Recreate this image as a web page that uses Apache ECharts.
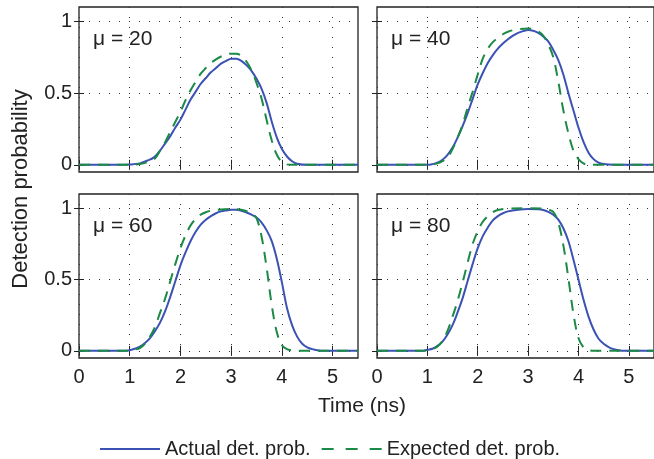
<!DOCTYPE html>
<html>
<head>
<meta charset="utf-8">
<script src="https://cdn.jsdelivr.net/npm/echarts@6/dist/echarts.min.js"></script>
<style>
html,body{margin:0;padding:0;background:#fff;}
#chart{width:654px;height:459px;}
</style>
</head>
<body>
<div id="chart"></div>
<script>
// ---- data (time in ns, detection probability) ----
const muLabels = ['μ = 20', 'μ = 40', 'μ = 60', 'μ = 80'];
const xTicks = [0, 1, 2, 3, 4, 5];
const yTicks = [0, 0.5, 1];
const seriesNames = ['Actual det. prob.', 'Expected det. prob.'];

const actual20 = [[0,0],[0.8,0],[1.0,0.002],[1.2,0.01],[1.35,0.03],[1.47,0.05],[1.6,0.1],[1.7,0.15],[1.8,0.2],[1.9,0.26],[2.0,0.315],[2.1,0.385],[2.2,0.455],[2.3,0.51],[2.4,0.565],[2.5,0.605],[2.6,0.645],[2.7,0.675],[2.8,0.705],[2.9,0.725],[3.0,0.74],[3.1,0.74],[3.2,0.725],[3.3,0.695],[3.4,0.655],[3.5,0.6],[3.6,0.53],[3.7,0.43],[3.8,0.3],[3.9,0.19],[4.0,0.11],[4.1,0.058],[4.2,0.025],[4.3,0.008],[4.5,0],[5.5,0]];
const expected20 = [[0,0],[1.0,0],[1.2,0.005],[1.4,0.025],[1.5,0.045],[1.6,0.1],[1.7,0.16],[1.8,0.23],[1.9,0.3],[2.0,0.37],[2.1,0.45],[2.2,0.52],[2.3,0.58],[2.4,0.635],[2.5,0.675],[2.6,0.71],[2.7,0.735],[2.8,0.755],[2.9,0.768],[3.0,0.775],[3.1,0.775],[3.2,0.76],[3.3,0.72],[3.4,0.66],[3.5,0.57],[3.6,0.46],[3.7,0.31],[3.8,0.17],[3.9,0.07],[4.0,0.02],[4.1,0.003],[4.2,0],[5.5,0]];

const actual40 = [[0,0],[1.0,0],[1.1,0.005],[1.2,0.015],[1.3,0.035],[1.4,0.07],[1.5,0.12],[1.6,0.19],[1.7,0.27],[1.8,0.36],[1.9,0.46],[2.0,0.56],[2.1,0.64],[2.2,0.71],[2.3,0.765],[2.4,0.81],[2.5,0.845],[2.6,0.875],[2.7,0.9],[2.8,0.92],[2.9,0.932],[3.0,0.94],[3.1,0.935],[3.2,0.92],[3.3,0.895],[3.4,0.86],[3.5,0.8],[3.6,0.73],[3.7,0.63],[3.8,0.5],[3.9,0.38],[4.0,0.26],[4.1,0.16],[4.2,0.085],[4.3,0.04],[4.4,0.015],[4.5,0.005],[4.7,0],[5.5,0]];
const expected40 = [[0,0],[1.0,0],[1.2,0.01],[1.3,0.025],[1.4,0.05],[1.5,0.11],[1.6,0.19],[1.7,0.28],[1.8,0.4],[1.9,0.51],[2.0,0.63],[2.1,0.74],[2.2,0.81],[2.3,0.855],[2.4,0.885],[2.5,0.91],[2.6,0.928],[2.8,0.945],[3.0,0.95],[3.1,0.945],[3.2,0.93],[3.3,0.9],[3.4,0.84],[3.5,0.75],[3.6,0.58],[3.7,0.38],[3.8,0.22],[3.9,0.1],[4.0,0.04],[4.1,0.01],[4.2,0],[5.5,0]];

const actual60 = [[0,0],[0.9,0],[1.0,0.005],[1.1,0.015],[1.2,0.03],[1.3,0.055],[1.4,0.09],[1.5,0.14],[1.6,0.2],[1.7,0.28],[1.8,0.38],[1.9,0.49],[2.0,0.6],[2.1,0.69],[2.2,0.77],[2.3,0.835],[2.4,0.885],[2.5,0.92],[2.6,0.945],[2.7,0.965],[2.8,0.978],[2.9,0.985],[3.0,0.99],[3.1,0.99],[3.2,0.983],[3.3,0.97],[3.4,0.955],[3.5,0.935],[3.6,0.9],[3.7,0.845],[3.8,0.77],[3.9,0.645],[4.0,0.48],[4.1,0.3],[4.2,0.18],[4.3,0.1],[4.4,0.05],[4.5,0.025],[4.6,0.012],[4.7,0.004],[4.8,0],[5.5,0]];
const expected60 = [[0,0],[0.9,0],[1.0,0.003],[1.1,0.01],[1.2,0.02],[1.3,0.05],[1.4,0.1],[1.5,0.17],[1.6,0.27],[1.7,0.37],[1.8,0.49],[1.9,0.61],[2.0,0.72],[2.1,0.81],[2.2,0.88],[2.3,0.925],[2.4,0.955],[2.5,0.972],[2.6,0.983],[2.8,0.992],[3.0,0.995],[3.2,0.99],[3.3,0.98],[3.4,0.965],[3.5,0.93],[3.6,0.8],[3.7,0.58],[3.8,0.32],[3.9,0.13],[4.0,0.04],[4.1,0.012],[4.2,0.003],[4.3,0],[5.5,0]];

const actual80 = [[0,0],[0.9,0],[1.0,0.008],[1.1,0.015],[1.2,0.035],[1.3,0.065],[1.4,0.115],[1.5,0.18],[1.6,0.27],[1.7,0.37],[1.8,0.49],[1.9,0.61],[2.0,0.72],[2.1,0.805],[2.2,0.865],[2.3,0.915],[2.4,0.945],[2.5,0.965],[2.6,0.978],[2.8,0.99],[3.0,0.995],[3.2,0.993],[3.3,0.988],[3.4,0.975],[3.5,0.955],[3.6,0.92],[3.7,0.86],[3.8,0.77],[3.9,0.64],[4.0,0.5],[4.1,0.36],[4.2,0.24],[4.3,0.15],[4.4,0.085],[4.5,0.05],[4.6,0.027],[4.7,0.012],[4.8,0.004],[4.9,0],[5.5,0]];
const expected80 = [[0,0],[0.9,0],[1.0,0.005],[1.1,0.012],[1.2,0.03],[1.3,0.07],[1.4,0.14],[1.5,0.24],[1.6,0.35],[1.7,0.48],[1.8,0.62],[1.9,0.75],[2.0,0.84],[2.1,0.905],[2.2,0.945],[2.3,0.972],[2.4,0.988],[2.6,0.997],[3.0,1.0],[3.3,0.997],[3.4,0.99],[3.5,0.975],[3.6,0.9],[3.7,0.74],[3.8,0.51],[3.9,0.26],[4.0,0.09],[4.1,0.025],[4.2,0.006],[4.3,0],[5.5,0]];

const actualSets = [actual20, actual40, actual60, actual80];
const expectedSets = [expected20, expected40, expected60, expected80];

// ---- styling ----
const FONT = "'Liberation Sans', Arial, Helvetica, sans-serif";
const BLUE = '#3b52b4';
const GREEN = '#1b8a45';
const grids = [
  {left: 79, top: 7, width: 279, height: 165},
  {left: 377, top: 7, width: 279, height: 165},
  {left: 79, top: 194, width: 279, height: 164},
  {left: 377, top: 194, width: 279, height: 164}
];

const tickStyle = {show: true, inside: true, length: 5, lineStyle: {color: '#222', width: 1}};
const gridLine = {show: true, lineStyle: {color: '#333', width: 1, type: [1, 9]}};

const xAxes = [], yAxes = [], series = [], graphics = [];
grids.forEach((g, i) => {
  const bottomRow = i >= 2, leftCol = (i % 2 === 0);
  xAxes.push({
    type: 'value', gridIndex: i, min: 0, max: 5.5, position: 'bottom',
    axisLine: {show: false},
    axisTick: Object.assign({customValues: xTicks}, tickStyle),
    splitLine: gridLine,
    axisLabel: {show: bottomRow, customValues: xTicks, fontSize: 20, fontFamily: FONT, color: '#222', margin: 9}
  });
  yAxes.push({
    type: 'value', gridIndex: i, min: -0.05, max: 1.1, position: 'left',
    axisLine: {show: false},
    axisTick: Object.assign({customValues: yTicks}, tickStyle),
    splitLine: gridLine,
    axisLabel: {show: leftCol, customValues: yTicks, fontSize: 20, fontFamily: FONT, color: '#222', margin: 7}
  });
});
// mirrored ticks on top / right (MATLAB box style)
grids.forEach((g, i) => {
  xAxes.push({
    type: 'value', gridIndex: i, min: 0, max: 5.5, position: 'top',
    axisLine: {show: false}, axisTick: Object.assign({customValues: xTicks}, tickStyle),
    splitLine: {show: false}, axisLabel: {show: false}
  });
  yAxes.push({
    type: 'value', gridIndex: i, min: -0.05, max: 1.1, position: 'right',
    axisLine: {show: false}, axisTick: Object.assign({customValues: yTicks}, tickStyle),
    splitLine: {show: false}, axisLabel: {show: false}
  });
});

grids.forEach((g, i) => {
  series.push({
    name: seriesNames[0], type: 'line', xAxisIndex: i, yAxisIndex: i,
    data: actualSets[i], showSymbol: false, symbol: 'none', smooth: 0.35,
    lineStyle: {color: BLUE, width: 2}, itemStyle: {color: BLUE}, z: 3, silent: true
  });
  series.push({
    name: seriesNames[1], type: 'line', xAxisIndex: i, yAxisIndex: i,
    data: expectedSets[i], showSymbol: false, symbol: 'none', smooth: 0.35,
    lineStyle: {color: GREEN, width: 2, type: [11, 8]}, itemStyle: {color: GREEN}, z: 4, silent: true
  });
  graphics.push({
    type: 'text', left: g.left + 14, top: g.top + 22,
    style: {text: muLabels[i], fontSize: 21, fontFamily: FONT, fill: '#222'}
  });
});

graphics.push({
  type: 'text', x: 362, y: 406,
  style: {text: 'Time (ns)', fontSize: 21, fontFamily: FONT, fill: '#222', textAlign: 'center', textVerticalAlign: 'middle'}
});
graphics.push({
  type: 'text', x: 21, y: 189, rotation: Math.PI / 2,
  style: {text: 'Detection probability', fontSize: 22, fontFamily: FONT, fill: '#222', textAlign: 'center', textVerticalAlign: 'middle'}
});

const chart = echarts.init(document.getElementById('chart'), null, {renderer: 'canvas'});
chart.setOption({
  animation: false,
  backgroundColor: '#fff',
  grid: grids.map(g => Object.assign({show: true, borderColor: '#222', borderWidth: 1.3, backgroundColor: '#fff', containLabel: false}, g)),
  xAxis: xAxes,
  yAxis: yAxes,
  legend: {
    data: [
      {name: seriesNames[0]},
      {name: seriesNames[1], lineStyle: {type: [12, 12]}}
    ],
    left: 94, top: 434, itemWidth: 60, itemHeight: 14, itemGap: 10,
    itemStyle: {opacity: 0},
    textStyle: {fontSize: 20, fontFamily: FONT, color: '#222'}
  },
  graphic: graphics,
  series: series
});
</script>
</body>
</html>
